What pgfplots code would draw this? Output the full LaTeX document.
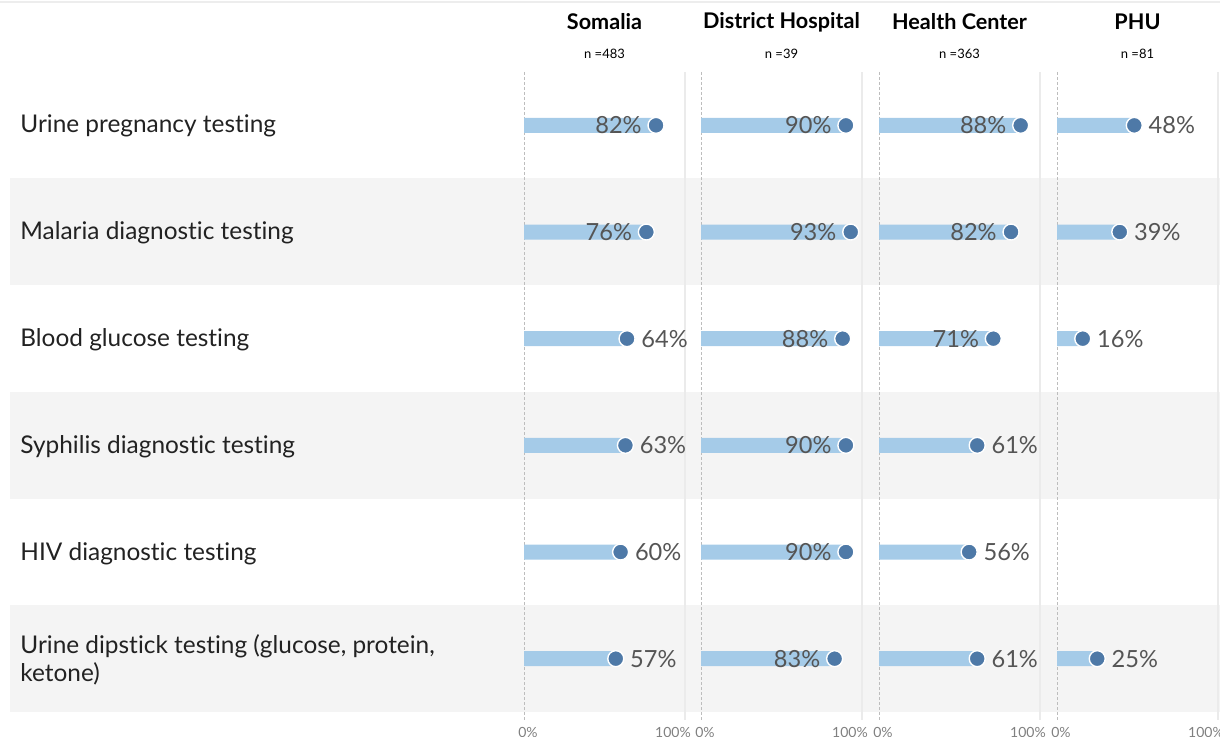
\documentclass[border=0pt]{standalone}
\usepackage{pgfplots}
\pgfplotsset{compat=1.18}
\usepackage{fontspec}
\setmainfont{Lato}[Ligatures=NoCommon]
\definecolor{barblue}{HTML}{A5CBE8}
\definecolor{dotblue}{HTML}{4E79A7}
\definecolor{bandgray}{HTML}{F4F4F4}
\definecolor{valgray}{HTML}{555555}
\definecolor{rowtext}{HTML}{222222}
\definecolor{dashgray}{HTML}{BDBDBD}
\definecolor{solidgray}{HTML}{EBEBEB}
\pgfplotsset{
  panel/.style={scale only axis, width=80.5pt, height=320pt,
    xmin=0, xmax=100, ymin=0.5, ymax=6.5, y dir=reverse, clip=false,
    /pgf/number format/assume math mode=true,
    axis line style={draw=none}, ytick=\empty, xtick={0,100},
    xticklabels={{\hspace*{4pt}0\%},{100\%\hspace*{12pt}}},
    major tick length=0pt,
    xticklabel style={anchor=base, yshift=-12.5pt, font=\fontsize{7}{8}\selectfont, text=gray},
    anchor=south west},
  barp/.style={xbar, bar width=7.5pt, bar shift=0pt, fill=barblue, draw=none},
  dotp/.style={only marks, mark=*, mark size=4pt, mark options={fill=dotblue, draw=white, line width=0.7pt}},
  labin/.style={only marks, mark=none, point meta=x,
    nodes near coords={\pgfmathprintnumber[assume math mode=true]{\pgfplotspointmeta}\%},
    every node near coord/.append style={anchor=east, xshift=-7pt, inner sep=0pt, text=valgray, font=\fontsize{11.8}{12}\selectfont}},
  labout/.style={only marks, mark=none, point meta=x,
    nodes near coords={\pgfmathprintnumber[assume math mode=true]{\pgfplotspointmeta}\%},
    every node near coord/.append style={anchor=west, xshift=7pt, inner sep=0pt, text=valgray, font=\fontsize{11.8}{12}\selectfont}},
}
\begin{document}
\begin{tikzpicture}
\useasboundingbox (0,0) rectangle (610pt,-368.5pt);
\draw[color=black!7, line width=1pt] (0,-0.8pt) -- (610pt,-0.8pt);
% bands
\fill[bandgray] (5pt,-89pt) rectangle (610pt,-142.5pt);
\fill[bandgray] (5pt,-196pt) rectangle (610pt,-249.5pt);
\fill[bandgray] (5pt,-302.5pt) rectangle (610pt,-356pt);
% panel lines
\foreach \xx in {262,350.5,439.5,528.5}{
  \draw[dashgray, line width=0.5pt, dash pattern=on 1.5pt off 1pt] (\xx pt,-36pt) -- (\xx pt,-360pt);
  \draw[solidgray, line width=0.6pt] (\xx pt+80.5pt,-36pt) -- (\xx pt+80.5pt,-360pt);
}
% headers
\foreach \cx/\name/\n in {302.25/Somalia/483, 390.75/District Hospital/39, 479.75/Health Center/363, 568.75/PHU/81}{
  \node[font=\bfseries\fontsize{10.8}{12}\selectfont] at (\cx pt,-11pt) {\name};
  \node[font=\fontsize{6.5}{7}\selectfont] at (\cx pt,-27pt) {n =\n};
}
% row labels
\foreach \yy/\lab in {-66.25/Urine pregnancy testing, -119.75/Malaria diagnostic testing, -173.25/Blood glucose testing, -226.75/Syphilis diagnostic testing, -280.25/HIV diagnostic testing}{
  \node[anchor=base west, inner sep=0pt, text=rowtext, font=\fontsize{12.2}{14}\selectfont] at (10pt,\yy pt) {\lab};
}
\node[anchor=west, inner sep=0pt, text=rowtext, align=left, font=\fontsize{12.2}{14}\selectfont] at (10pt,-330pt) {Urine dipstick testing (glucose, protein,\\ketone)};

% Somalia
\begin{axis}[panel, at={(262pt,-356pt)}]
\addplot[barp] coordinates {(82,1) (76,2) (64,3) (63,4) (60,5) (57,6)};
\addplot[dotp] coordinates {(82,1) (76,2) (64,3) (63,4) (60,5) (57,6)};
\addplot[labin] coordinates {(82,1) (76,2)};
\addplot[labout] coordinates {(64,3) (63,4) (60,5) (57,6)};
\end{axis}
% District Hospital
\begin{axis}[panel, at={(350.5pt,-356pt)}]
\addplot[barp] coordinates {(90,1) (93,2) (88,3) (90,4) (90,5) (83,6)};
\addplot[dotp] coordinates {(90,1) (93,2) (88,3) (90,4) (90,5) (83,6)};
\addplot[labin] coordinates {(90,1) (93,2) (88,3) (90,4) (90,5) (83,6)};
\end{axis}
% Health Center
\begin{axis}[panel, at={(439.5pt,-356pt)}]
\addplot[barp] coordinates {(88,1) (82,2) (71,3) (61,4) (56,5) (61,6)};
\addplot[dotp] coordinates {(88,1) (82,2) (71,3) (61,4) (56,5) (61,6)};
\addplot[labin] coordinates {(88,1) (82,2) (71,3)};
\addplot[labout] coordinates {(61,4) (56,5) (61,6)};
\end{axis}
% PHU
\begin{axis}[panel, at={(528.5pt,-356pt)}]
\addplot[barp] coordinates {(48,1) (39,2) (16,3) (25,6)};
\addplot[dotp] coordinates {(48,1) (39,2) (16,3) (25,6)};
\addplot[labout] coordinates {(48,1) (39,2) (16,3) (25,6)};
\end{axis}
\end{tikzpicture}
\end{document}
